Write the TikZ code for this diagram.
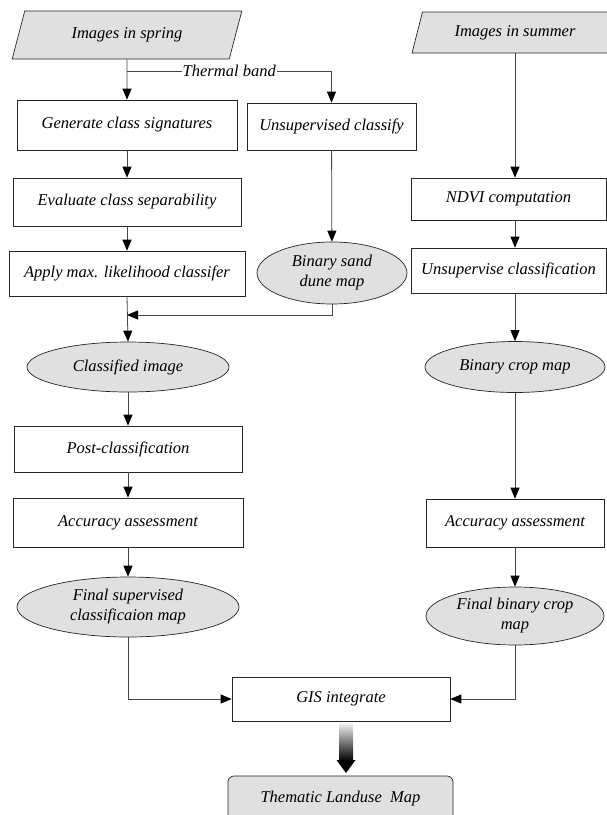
\documentclass[tikz,border=0pt]{standalone}
\usepackage{fontspec}
\setmainfont{Liberation Serif}[ItalicFont={Liberation Serif Italic}, BoldFont={Liberation Serif Bold}]
\usetikzlibrary{shapes.geometric,arrows.meta,calc}
\definecolor{shapegray}{RGB}{224,224,224}
\definecolor{linegray}{RGB}{70,70,70}
\begin{document}
\begin{tikzpicture}[x=1pt,y=-1pt,
  font=\rmfamily\itshape\fontsize{16.5}{20}\selectfont,
  box/.style={draw=black!85, line width=0.7pt, fill=white, inner sep=2pt},
  ell/.style={ellipse, draw=black!85, line width=0.7pt, fill=shapegray, inner sep=0pt, align=center},
  para/.style={trapezium, trapezium left angle=69, trapezium right angle=111,
    trapezium stretches=true, draw=black!85, line width=0.7pt, fill=shapegray, inner sep=2pt},
  arr/.style={draw=linegray, line width=0.8pt, -{Triangle[length=11pt,width=9pt,color=black]}},
  lab/.style={fill=white, inner sep=1pt}]
\useasboundingbox (0,0) rectangle (607,815);
\clip (0,0) rectangle (607,815);
\fill[white] (0,0) rectangle (607,815);

% left column
\node[para, minimum width=230pt, minimum height=48pt] (spring) at (127,35) {Images in spring};
\node[box, minimum width=220pt, minimum height=50pt] (gen) at (127,125) {Generate class signatures};
\node[box, minimum width=228pt, minimum height=48pt] (eval) at (127,202) {Evaluate class separability};
\node[box, minimum width=236pt, minimum height=45pt] (apply) at (127,273.5) {Apply max. likelihood classifer};
\node[ell, minimum width=202pt, minimum height=50pt] (classified) at (128,367) {Classified image};
\node[box, minimum width=228pt, minimum height=46pt] (post) at (128,449) {Post-classification};
\node[box, minimum width=230pt, minimum height=49pt] (acc1) at (128,522.5) {Accuracy assessment};
\node[ell, minimum width=222pt, minimum height=60pt] (fsup) at (128,607) {Final supervised\\classificaion map};

% middle column
\node[box, minimum width=169pt, minimum height=47pt] (unsup) at (331.5,126.5) {Unsupervised classify};
\node[ell, minimum width=150pt, minimum height=62pt] (sand) at (332,273) {Binary sand\\dune map};

% right column
\node[para, minimum width=206pt, minimum height=41pt] (summer) at (515,32.5) {Images in summer};
\node[box, minimum width=195pt, minimum height=42pt] (ndvi) at (508.5,199) {NDVI computation};
\node[box, minimum width=195pt, minimum height=45pt] (uns2) at (508.5,270.5) {Unsupervise classification};
\node[ell, minimum width=180pt, minimum height=51pt] (crop) at (515,367) {Binary crop map};
\node[box, minimum width=178pt, minimum height=48pt] (acc2) at (515,523) {Accuracy assessment};
\node[ell, minimum width=178pt, minimum height=58pt] (fcrop) at (515,616) {Final binary crop\\map};

% bottom
\node[box, minimum width=218pt, minimum height=44pt] (gis) at (341,699) {GIS integrate};
\node[draw=black!85, line width=0.7pt, fill=shapegray, rounded corners=6pt,
  minimum width=225pt, minimum height=46pt] (them) at (340.5,799) {Thematic Landuse\ \ Map};

% connectors left
\coordinate (t1) at (127,71);
\coordinate (m1) at (127,315);
\draw[arr] (spring.south) -- (gen.north);
\draw[arr] (t1) -- node[lab] {Thermal band} (t1 -| unsup.north) -- (unsup.north);
\draw[arr] (gen) -- (eval);
\draw[arr] (eval) -- (apply);
\draw[arr] (apply.south) -- (classified.north);
\draw[arr] (unsup) -- (sand);
\draw[arr] (sand.south) |- (m1);
\draw[arr] (classified) -- (post);
\draw[arr] (post) -- (acc1);
\draw[arr] (acc1) -- (fsup);
\draw[arr] (fsup.south) |- (gis.west);

% connectors right
\draw[arr] (summer.south) -- (summer.south |- ndvi.north);
\draw[arr] (ndvi.south -| crop.north) -- (uns2.north -| crop.north);
\draw[arr] (uns2.south -| crop.north) -- (crop.north);
\draw[arr] (crop) -- (acc2);
\draw[arr] (acc2) -- (fcrop);
\draw[arr] (fcrop.south) |- (gis.east);

% shaded arrow
\coordinate (ga) at (346,723);
\shade[top color=gray!10, bottom color=black] ($(ga)+(-7,0)$) rectangle ($(ga)+(7,38)$);
\fill[black] ($(ga)+(-9.5,37)$) -- ($(ga)+(9.5,37)$) -- ($(ga)+(0,50)$) -- cycle;
\end{tikzpicture}
\end{document}
